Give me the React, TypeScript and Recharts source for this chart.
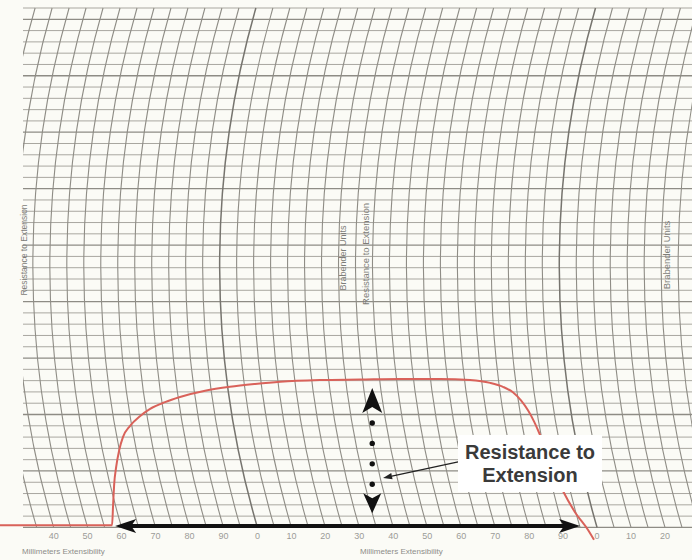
import React from "react";
import {
  ComposedChart,
  Line,
  XAxis,
  YAxis,
  CartesianGrid,
  ReferenceLine,
} from "recharts";

// extensibility in mm, counted straight through both 0–90 cycles printed on the paper
const extensionMm = [
  24.2, 57.2, 57.5, 57.8, 58.4, 59.3, 60.4, 62.5, 65.4, 68.4, 72.8, 77.2, 84.6,
  91.9, 99.3, 106.7, 118.4, 130.2, 142.0, 153.8, 162.6, 168.5, 172.3, 175.3,
  177.6, 179.7, 181.5, 183.2, 190.0, 193.5, 197.4, 199.1,
];
// resistance in Brabender Units
const resistanceBU = [
  4, 4, 40, 75, 107, 137, 160, 180, 197, 210, 222, 231, 242, 249, 254, 258, 261,
  262, 263, 263, 261, 256, 249, 239, 225, 207, 187, 164, 64, 27, -5, -22,
];

// chart paper rulings
const gridMm = [
  30, 35, 40, 45, 50, 55, 60, 65, 70, 75, 80, 85, 90, 95, 100, 105, 110, 115,
  120, 125, 130, 135, 140, 145, 150, 155, 160, 165, 170, 175, 180, 185, 190, 195,
  200, 205, 210, 215, 220, 225, 230, 235, 240,
];
const labelMm = [
  40, 50, 60, 70, 80, 90, 100, 110, 120, 130, 140, 150, 160, 170, 180, 190, 200,
  210, 220,
];
const gridBU = [
  0, 20, 40, 60, 80, 100, 120, 140, 160, 180, 200, 220, 240, 260, 280, 300, 320,
  340, 360, 380, 400, 420, 440, 460, 480, 500, 520, 540, 560, 580, 600, 620, 640,
  660, 680, 700, 720, 740, 760, 780, 800, 820, 840, 860, 880, 900, 920,
];

const data = extensionMm.map((mm, i) => ({ mm, bu: resistanceBU[i] }));

const W = 692;
const H = 560;
const TOP = 8;
const AXIS_H = 10;
const Y_MIN = -40;
const Y_MAX = 920;
const PEN_R = 930; // radius of the recorder pen arc
const PEN_CY = 265;
const LABEL_Y = 539;

const paperFont = "'Liberation Sans', Arial, sans-serif";

const ArcLine = (props: any) => {
  const { x1, y1, y2, index } = props;
  const base = y1 + ((Y_MAX - 0) / (Y_MAX - Y_MIN)) * (y2 - y1);
  const cx = x1 + Math.sqrt(PEN_R * PEN_R - (base - PEN_CY) ** 2);
  const xTop = cx - Math.sqrt(PEN_R * PEN_R - (y1 - PEN_CY) ** 2);
  const mm = gridMm[index];
  const heavy = mm === 100 || mm === 200;
  return (
    <path
      key={`arc-${index}`}
      d={`M${xTop},${y1} A${PEN_R},${PEN_R} 0 0 0 ${x1},${base}`}
      fill="none"
      stroke={heavy ? "#76746e" : "#8f8d86"}
      strokeWidth={heavy ? 1.5 : 1.1}
      clipPath="url(#paperClip)"
    />
  );
};

const RuleLine = (props: any) => {
  const { x1, x2, y1, index } = props;
  const plotH = H - AXIS_H - TOP;
  const bu = Math.round((Y_MAX - ((y1 - TOP) / plotH) * (Y_MAX - Y_MIN)) / 20) * 20;
  const heavy = bu % 100 === 0;
  return (
    <line
      key={`rule-${index}`}
      x1={x1}
      x2={x2}
      y1={y1}
      y2={y1}
      stroke={heavy ? "#8e8c85" : "#a9a7a0"}
      strokeWidth={heavy ? 1.3 : 1}
      clipPath="url(#paperClip)"
    />
  );
};

const MmTick = (props: any) => {
  const { x, payload } = props;
  if (!labelMm.includes(payload.value)) return <g />;
  return (
    <text
      x={x}
      y={LABEL_Y}
      textAnchor="middle"
      fontSize={9}
      fill="#9b9b98"
      fontFamily={paperFont}
    >
      {payload.value % 100}
    </text>
  );
};

const HArrow = (props: any) => {
  const { x1, x2, y1 } = props;
  const l = Math.min(x1, x2);
  const r = Math.max(x1, x2);
  const y = y1;
  return (
    <g>
      <line x1={l + 14} x2={r - 14} y1={y} y2={y} stroke="#111" strokeWidth={4} />
      <polygon
        points={`${l},${y} ${l + 21},${y - 7} ${l + 16},${y} ${l + 21},${y + 7}`}
        fill="#111"
      />
      <polygon
        points={`${r},${y} ${r - 21},${y - 7} ${r - 16},${y} ${r - 21},${y + 7}`}
        fill="#111"
      />
    </g>
  );
};

const VArrow = (props: any) => {
  const { x1, y1, y2 } = props;
  const top = Math.min(y1, y2);
  const bot = Math.max(y1, y2);
  const x = x1;
  const d0 = top + 35;
  const d1 = bot - 29;
  const dots = [0, 1, 2, 3].map((i) => d0 + ((d1 - d0) * i) / 3);
  return (
    <g>
      <polygon
        points={`${x},${top} ${x + 10},${top + 25} ${x},${top + 19} ${x - 10},${top + 25}`}
        fill="#111"
      />
      <polygon
        points={`${x},${bot} ${x + 9},${bot - 20} ${x},${bot - 15} ${x - 9},${bot - 20}`}
        fill="#111"
      />
      {dots.map((cy, i) => (
        <circle key={i} cx={x} cy={cy} r={2.7} fill="#111" />
      ))}
    </g>
  );
};

const Leader = (props: any) => {
  const { x1, y1, x2, y2 } = props;
  const a = Math.atan2(y2 - y1, x2 - x1);
  const len = 9;
  const w = 3.2;
  const bx = x2 - len * Math.cos(a);
  const by = y2 - len * Math.sin(a);
  const px = -Math.sin(a) * w;
  const py = Math.cos(a) * w;
  return (
    <g>
      <line x1={x1} y1={y1} x2={bx} y2={by} stroke="#222" strokeWidth={1.3} />
      <polygon
        points={`${x2},${y2} ${bx + px},${by + py} ${bx - px},${by - py}`}
        fill="#222"
      />
    </g>
  );
};

function PaperLabel({ x, y, text, size = 9 }: { x: number; y: number; text: string; size?: number }) {
  return (
    <text
      transform={`translate(${x},${y}) rotate(-90)`}
      textAnchor="middle"
      fontSize={size}
      fill="#7d7d78"
      fontFamily={paperFont}
    >
      {text}
    </text>
  );
}

const calloutStyle = {
  fontFamily: "'Liberation Sans', Arial, sans-serif",
  fontWeight: 700,
  fontSize: 20,
  fill: "#3a3a3a",
};

export default function App() {
  return (
    <div
      style={{
        position: "absolute",
        left: 0,
        top: 0,
        width: W,
        height: H,
        overflow: "hidden",
        background: "#fbfbf6",
      }}
    >
      <svg width={0} height={0} style={{ position: "absolute" }}>
        <defs>
          <clipPath id="paperClip">
            <rect x={23} y={0} width={700} height={H} />
          </clipPath>
        </defs>
      </svg>
      <ComposedChart
        width={W}
        height={H}
        data={data}
        margin={{ top: TOP, right: -45, bottom: 0, left: 0 }}
      >
        <CartesianGrid
          horizontal={RuleLine}
          vertical={ArcLine}
          horizontalValues={gridBU}
          verticalValues={gridMm}
        />
        <XAxis
          type="number"
          dataKey="mm"
          domain={[24.2, 241.2]}
          ticks={gridMm}
          interval={0}
          height={AXIS_H}
          axisLine={false}
          tickLine={false}
          tick={MmTick}
        />
        <YAxis
          type="number"
          hide
          domain={[Y_MIN, Y_MAX]}
          ticks={gridBU}
          interval={0}
        />
        <Line
          type="monotone"
          dataKey="bu"
          stroke="#d9625a"
          strokeWidth={2}
          dot={false}
          isAnimationActive={false}
        />
        <ReferenceLine
          segment={[
            { x: 58.1, y: 2.5 },
            { x: 195.0, y: 2.5 },
          ]}
          ifOverflow="visible"
          shape={HArrow}
        />
        <ReferenceLine
          segment={[
            { x: 133.8, y: 247 },
            { x: 133.8, y: 25 },
          ]}
          ifOverflow="visible"
          shape={VArrow}
        />
        <ReferenceLine
          segment={[
            { x: 159.1, y: 116 },
            { x: 137.0, y: 87.5 },
          ]}
          ifOverflow="visible"
          shape={Leader}
        />
      </ComposedChart>
      <svg
        width={W}
        height={H}
        style={{ position: "absolute", left: 0, top: 0, pointerEvents: "none" }}
      >
        <PaperLabel x={27} y={250} text="Resistance to Extension" size={8.5} />
        <PaperLabel x={346} y={258} text="Brabender Units" />
        <PaperLabel x={369} y={254} text="Resistance to Extension" size={9.5} />
        <PaperLabel x={670} y={255} text="Brabender Units" size={9.5} />
        <text x={22} y={554} fontSize={8} fill="#8d8d89" fontFamily={paperFont}>
          Millimeters Extensibility
        </text>
        <text x={360} y={554} fontSize={8} fill="#8d8d89" fontFamily={paperFont}>
          Millimeters Extensibility
        </text>
        <rect x={458} y={435} width={144} height={57} fill="#ffffff" />
        <text x={530} y={459} textAnchor="middle" style={calloutStyle}>
          Resistance to
        </text>
        <text x={530} y={481.5} textAnchor="middle" style={calloutStyle}>
          Extension
        </text>
      </svg>
    </div>
  );
}
